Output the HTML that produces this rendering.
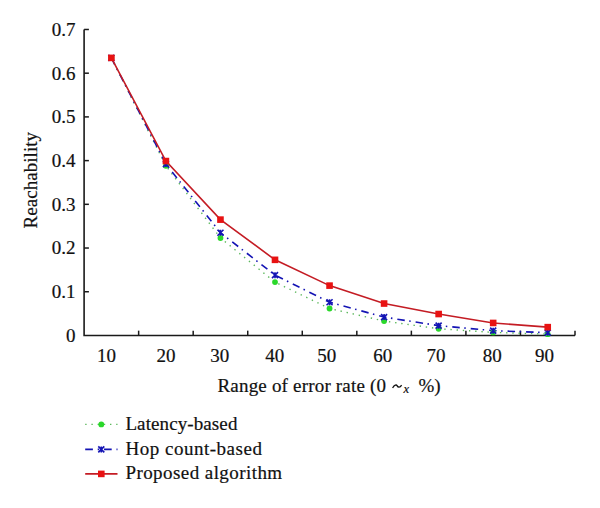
<!DOCTYPE html>
<html><head><meta charset="utf-8"><style>
html,body{margin:0;padding:0;background:#fff;}
svg{display:block;}
.t{font-family:"Liberation Serif",serif;font-size:19px;fill:#111;stroke:#111;stroke-width:0.2px;}
.it{font-style:italic;}
</style></head><body>
<svg width="600" height="508" viewBox="0 0 600 508">
<rect width="600" height="508" fill="#fff"/>
<path d="M84.10,29.48 V335.45 H575.00" fill="none" stroke="#1a1a1a" stroke-width="1.6"/>
<line x1="84.10" y1="291.74" x2="88.90" y2="291.74" stroke="#1a1a1a" stroke-width="1.5"/>
<line x1="84.10" y1="248.03" x2="88.90" y2="248.03" stroke="#1a1a1a" stroke-width="1.5"/>
<line x1="84.10" y1="204.32" x2="88.90" y2="204.32" stroke="#1a1a1a" stroke-width="1.5"/>
<line x1="84.10" y1="160.61" x2="88.90" y2="160.61" stroke="#1a1a1a" stroke-width="1.5"/>
<line x1="84.10" y1="116.90" x2="88.90" y2="116.90" stroke="#1a1a1a" stroke-width="1.5"/>
<line x1="84.10" y1="73.19" x2="88.90" y2="73.19" stroke="#1a1a1a" stroke-width="1.5"/>
<line x1="84.10" y1="29.48" x2="88.90" y2="29.48" stroke="#1a1a1a" stroke-width="1.5"/>
<line x1="138.64" y1="335.45" x2="138.64" y2="330.65" stroke="#1a1a1a" stroke-width="1.5"/>
<line x1="193.19" y1="335.45" x2="193.19" y2="330.65" stroke="#1a1a1a" stroke-width="1.5"/>
<line x1="247.73" y1="335.45" x2="247.73" y2="330.65" stroke="#1a1a1a" stroke-width="1.5"/>
<line x1="302.28" y1="335.45" x2="302.28" y2="330.65" stroke="#1a1a1a" stroke-width="1.5"/>
<line x1="356.82" y1="335.45" x2="356.82" y2="330.65" stroke="#1a1a1a" stroke-width="1.5"/>
<line x1="411.37" y1="335.45" x2="411.37" y2="330.65" stroke="#1a1a1a" stroke-width="1.5"/>
<line x1="465.91" y1="335.45" x2="465.91" y2="330.65" stroke="#1a1a1a" stroke-width="1.5"/>
<line x1="520.46" y1="335.45" x2="520.46" y2="330.65" stroke="#1a1a1a" stroke-width="1.5"/>
<line x1="575.00" y1="335.45" x2="575.00" y2="330.65" stroke="#1a1a1a" stroke-width="1.5"/>
<text x="75.6" y="341.85" text-anchor="end" class="t">0</text>
<text x="75.6" y="298.14" text-anchor="end" class="t">0.1</text>
<text x="75.6" y="254.43" text-anchor="end" class="t">0.2</text>
<text x="75.6" y="210.72" text-anchor="end" class="t">0.3</text>
<text x="75.6" y="167.01" text-anchor="end" class="t">0.4</text>
<text x="75.6" y="123.30" text-anchor="end" class="t">0.5</text>
<text x="75.6" y="79.59" text-anchor="end" class="t">0.6</text>
<text x="75.6" y="35.88" text-anchor="end" class="t">0.7</text>
<text x="106.57" y="362.20" text-anchor="middle" class="t">10</text>
<text x="166.02" y="362.20" text-anchor="middle" class="t">20</text>
<text x="219.71" y="362.20" text-anchor="middle" class="t">30</text>
<text x="274.76" y="362.20" text-anchor="middle" class="t">40</text>
<text x="326.65" y="362.20" text-anchor="middle" class="t">50</text>
<text x="382.69" y="362.20" text-anchor="middle" class="t">60</text>
<text x="435.89" y="362.20" text-anchor="middle" class="t">70</text>
<text x="492.18" y="362.20" text-anchor="middle" class="t">80</text>
<text x="544.48" y="362.20" text-anchor="middle" class="t">90</text>
<polyline points="111.37,57.89 165.92,165.86 220.46,237.98 275.01,282.12 329.55,308.52 384.09,321.03 438.64,328.76 493.18,332.39 547.73,334.14" fill="none" stroke="#5cb85c" stroke-width="1.4" stroke-dasharray="1.4 4.8"/>
<polyline points="111.37,57.89 165.92,164.11 220.46,232.73 275.01,275.13 329.55,302.23 384.09,317.09 438.64,325.66 493.18,330.64 547.73,332.65" fill="none" stroke="#1414b4" stroke-width="1.6" stroke-dasharray="7.5 4.5 1.5 5"/>
<polyline points="111.37,57.89 165.92,161.05 220.46,219.62 275.01,259.83 329.55,285.62 384.09,303.54 438.64,314.03 493.18,322.95 547.73,327.15" fill="none" stroke="#c41c24" stroke-width="1.6"/>
<circle cx="111.37" cy="57.89" r="2.9" fill="#2ad82a"/>
<circle cx="165.92" cy="165.86" r="2.9" fill="#2ad82a"/>
<circle cx="220.46" cy="237.98" r="2.9" fill="#2ad82a"/>
<circle cx="275.01" cy="282.12" r="2.9" fill="#2ad82a"/>
<circle cx="329.55" cy="308.52" r="2.9" fill="#2ad82a"/>
<circle cx="384.09" cy="321.03" r="2.9" fill="#2ad82a"/>
<circle cx="438.64" cy="328.76" r="2.9" fill="#2ad82a"/>
<circle cx="493.18" cy="332.39" r="2.9" fill="#2ad82a"/>
<circle cx="547.73" cy="334.14" r="2.9" fill="#2ad82a"/>
<path d="M108.37,54.89L114.37,60.89M114.37,54.89L108.37,60.89M111.37,54.89V60.89" stroke="#1414b4" stroke-width="1.6" fill="none"/>
<path d="M162.92,161.11L168.92,167.11M168.92,161.11L162.92,167.11M165.92,161.11V167.11" stroke="#1414b4" stroke-width="1.6" fill="none"/>
<path d="M217.46,229.73L223.46,235.73M223.46,229.73L217.46,235.73M220.46,229.73V235.73" stroke="#1414b4" stroke-width="1.6" fill="none"/>
<path d="M272.01,272.13L278.01,278.13M278.01,272.13L272.01,278.13M275.01,272.13V278.13" stroke="#1414b4" stroke-width="1.6" fill="none"/>
<path d="M326.55,299.23L332.55,305.23M332.55,299.23L326.55,305.23M329.55,299.23V305.23" stroke="#1414b4" stroke-width="1.6" fill="none"/>
<path d="M381.09,314.09L387.09,320.09M387.09,314.09L381.09,320.09M384.09,314.09V320.09" stroke="#1414b4" stroke-width="1.6" fill="none"/>
<path d="M435.64,322.66L441.64,328.66M441.64,322.66L435.64,328.66M438.64,322.66V328.66" stroke="#1414b4" stroke-width="1.6" fill="none"/>
<path d="M490.18,327.64L496.18,333.64M496.18,327.64L490.18,333.64M493.18,327.64V333.64" stroke="#1414b4" stroke-width="1.6" fill="none"/>
<path d="M544.73,329.65L550.73,335.65M550.73,329.65L544.73,335.65M547.73,329.65V335.65" stroke="#1414b4" stroke-width="1.6" fill="none"/>
<rect x="108.07" y="54.59" width="6.60" height="6.60" fill="#e81212"/>
<rect x="162.62" y="157.75" width="6.60" height="6.60" fill="#e81212"/>
<rect x="217.16" y="216.32" width="6.60" height="6.60" fill="#e81212"/>
<rect x="271.71" y="256.53" width="6.60" height="6.60" fill="#e81212"/>
<rect x="326.25" y="282.32" width="6.60" height="6.60" fill="#e81212"/>
<rect x="380.79" y="300.24" width="6.60" height="6.60" fill="#e81212"/>
<rect x="435.34" y="310.73" width="6.60" height="6.60" fill="#e81212"/>
<rect x="489.88" y="319.65" width="6.60" height="6.60" fill="#e81212"/>
<rect x="544.43" y="323.85" width="6.60" height="6.60" fill="#e81212"/>
<text x="217.5" y="391.6" class="t" textLength="168.5" lengthAdjust="spacing">Range of error rate (0</text>
<path d="M392.6,388 C394.5,384.6 396.5,384.6 397,385.6 C398,387.6 400,387.8 401.6,385.2" fill="none" stroke="#111" stroke-width="1.3"/>
<text x="403.4" y="393.3" class="t it" style="font-size:12.5px">x</text>
<text x="418.5" y="391.6" class="t">%)</text>
<text transform="translate(36.8,180.2) rotate(-90)" text-anchor="middle" class="t" textLength="96.5" lengthAdjust="spacing">Reachability</text>
<line x1="85.2" y1="424.4" x2="117.5" y2="424.4" stroke="#5cb85c" stroke-width="1.4" stroke-dasharray="1.4 4.8"/>
<circle cx="101.30" cy="424.40" r="2.9" fill="#2ad82a"/>
<line x1="85.2" y1="449.4" x2="117.5" y2="449.4" stroke="#1414b4" stroke-width="1.6" stroke-dasharray="7.7 4.8 1.5 4.8"/>
<path d="M98.30,446.40L104.30,452.40M104.30,446.40L98.30,452.40M101.30,446.40V452.40" stroke="#1414b4" stroke-width="1.6" fill="none"/>
<line x1="85.2" y1="473.9" x2="117.5" y2="473.9" stroke="#c41c24" stroke-width="1.6"/>
<rect x="98.00" y="470.60" width="6.60" height="6.60" fill="#e81212"/>
<text x="125.4" y="429.7" class="t" textLength="112.0" lengthAdjust="spacing">Latency-based</text>
<text x="125.4" y="454.8" class="t" textLength="136.5" lengthAdjust="spacing">Hop count-based</text>
<text x="125.4" y="479.2" class="t" textLength="156.7" lengthAdjust="spacing">Proposed algorithm</text>
</svg>
</body></html>
